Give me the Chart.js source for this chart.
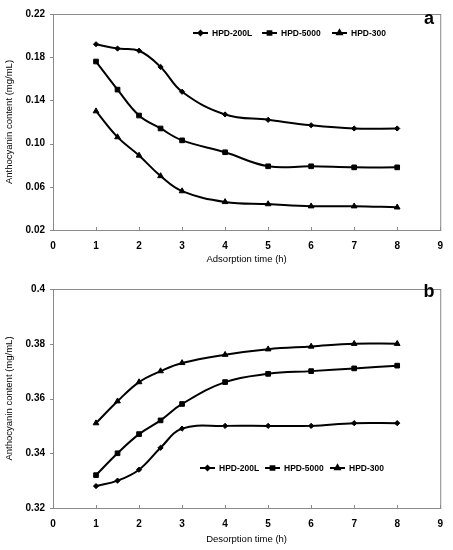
<!DOCTYPE html>
<html>
<head>
<meta charset="utf-8">
<script src="https://cdn.jsdelivr.net/npm/chart.js@4"></script>
<style>
  html, body { margin: 0; padding: 0; background: #fff; }
  canvas { display: block; }
</style>
</head>
<body>
<canvas id="chartA" width="453" height="275"></canvas>
<canvas id="chartB" width="453" height="275"></canvas>
<script>
// sampling times (h)
const times = [1, 1.5, 2, 2.5, 3, 4, 5, 6, 7, 8];
const seriesNames = ['HPD-200L', 'HPD-5000', 'HPD-300'];

// (a) adsorption
const adsHPD200L = [0.192, 0.188, 0.186, 0.171, 0.148, 0.127, 0.122, 0.117, 0.114, 0.114];
const adsHPD5000 = [0.176, 0.150, 0.126, 0.114, 0.103, 0.092, 0.079, 0.079, 0.078, 0.078];
const adsHPD300  = [0.130, 0.106, 0.089, 0.070, 0.056, 0.046, 0.044, 0.042, 0.042, 0.041];

// (b) desorption
const desHPD200L = [0.328, 0.330, 0.334, 0.342, 0.349, 0.350, 0.350, 0.350, 0.351, 0.351];
const desHPD5000 = [0.332, 0.340, 0.347, 0.352, 0.358, 0.366, 0.369, 0.370, 0.371, 0.372];
const desHPD300  = [0.351, 0.359, 0.366, 0.370, 0.373, 0.376, 0.378, 0.379, 0.380, 0.380];

const FONT = '"Liberation Sans", Arial, sans-serif';
const markers = [
    { style: 'rectRot', radius: 2.6 },
    { style: 'rect', radius: 3.3 },
    { style: 'triangle', radius: 3.3 }
];

function makeDatasets(lists) {
    return lists.map(function (vals, i) {
        return {
            label: seriesNames[i],
            data: times.map(function (t, k) { return { x: t, y: vals[k] }; }),
            borderColor: '#000',
            backgroundColor: '#000',
            borderWidth: 2,
            tension: 0.4,
            pointStyle: markers[i].style,
            pointRadius: markers[i].radius,
            pointBorderWidth: 1
        };
    });
}

// box round the plot, small inward ticks, legend and panel letter
const decorPlugin = {
    id: 'decor',
    afterDraw(chart, args, opts) {
        const ctx = chart.ctx;
        const a = chart.chartArea;
        ctx.save();
        ctx.strokeStyle = '#8a8a8a';
        ctx.lineWidth = 1;
        ctx.strokeRect(a.left + 0.5, a.top + 0.5, a.right - a.left, a.bottom - a.top);

        const xs = chart.scales.x, ys = chart.scales.y;
        ctx.beginPath();
        xs.ticks.forEach(function (t, i) {
            const px = Math.round(xs.getPixelForTick(i)) + 0.5;
            ctx.moveTo(px, a.bottom);
            ctx.lineTo(px, a.bottom - 3);
        });
        ys.ticks.forEach(function (t, i) {
            const py = Math.round(ys.getPixelForTick(i)) + 0.5;
            ctx.moveTo(a.left, py);
            ctx.lineTo(a.left - 3, py);
        });
        ctx.stroke();

        // legend
        ctx.font = 'bold 8.5px ' + FONT;
        ctx.textBaseline = 'middle';
        ctx.fillStyle = '#000';
        chart.data.datasets.forEach(function (ds, i) {
            const lx = opts.legendX[i], ly = opts.legendY;
            ctx.strokeStyle = '#000';
            ctx.lineWidth = 2;
            ctx.beginPath();
            ctx.moveTo(lx, ly);
            ctx.lineTo(lx + 15, ly);
            ctx.stroke();
            Chart.helpers.drawPoint(ctx, {
                pointStyle: ds.pointStyle,
                radius: ds.pointRadius * 0.8,
                borderWidth: 1,
                rotation: 0
            }, lx + 7.5, ly);
            ctx.fill();
            ctx.fillText(ds.label, lx + 19, ly + 0.5);
        });

        ctx.font = 'bold 18px ' + FONT;
        ctx.textAlign = 'center';
        ctx.fillText(opts.letter, opts.letterX, opts.letterY);
        ctx.restore();
    }
};

function makeChart(id, lists, cfg) {
    return new Chart(document.getElementById(id), {
        type: 'line',
        data: { datasets: makeDatasets(lists) },
        plugins: [decorPlugin],
        options: {
            responsive: false,
            animation: false,
            layout: { padding: { left: 0, right: 10, top: cfg.top, bottom: 0 } },
            plugins: {
                legend: { display: false },
                tooltip: { enabled: false },
                decor: {
                    legendX: cfg.legendX,
                    legendY: cfg.legendY,
                    letter: cfg.letter,
                    letterX: 429,
                    letterY: cfg.letterY
                }
            },
            scales: {
                x: {
                    type: 'linear',
                    min: 0,
                    max: 9,
                    afterFit: function (s) { s.height = cfg.xHeight; },
                    grid: { display: false, drawTicks: false },
                    border: { display: false },
                    ticks: {
                        stepSize: 1,
                        padding: cfg.xPad,
                        color: '#000',
                        font: { family: FONT, size: 10, weight: 'bold' }
                    },
                    title: {
                        display: true,
                        text: cfg.xTitle,
                        color: '#000',
                        padding: { top: 0, bottom: cfg.xTitlePad },
                        font: { family: FONT, size: 9.5 }
                    }
                },
                y: {
                    min: cfg.yMin,
                    max: cfg.yMax,
                    afterFit: function (s) { s.width = 53; },
                    grid: { display: false, drawTicks: false },
                    border: { display: false },
                    ticks: {
                        stepSize: cfg.yStep,
                        padding: 8,
                        color: '#000',
                        font: { family: FONT, size: 10, weight: 'bold' },
                        callback: cfg.yFormat
                    },
                    title: {
                        display: true,
                        text: 'Anthocyanin content (mg/mL)',
                        color: '#000',
                        padding: { top: 4, bottom: 0 },
                        font: { family: FONT, size: 9.5 }
                    }
                }
            }
        }
    });
}

makeChart('chartA', [adsHPD200L, adsHPD5000, adsHPD300], {
    top: 7, xHeight: 45, xPad: 10, xTitlePad: 10,
    xTitle: 'Adsorption time (h)',
    yMin: 0.02, yMax: 0.22, yStep: 0.04,
    yFormat: function (v) { return v.toFixed(2); },
    legendX: [193, 262, 332], legendY: 33,
    letter: 'a', letterY: 19
});

makeChart('chartB', [desHPD200L, desHPD5000, desHPD300], {
    top: 6, xHeight: 42, xPad: 10, xTitlePad: 5,
    xTitle: 'Desorption time (h)',
    yMin: 0.32, yMax: 0.4, yStep: 0.02,
    yFormat: function (v) { return String(+v.toFixed(2)); },
    legendX: [200, 265, 330], legendY: 193,
    letter: 'b', letterY: 17
});
</script>
</body>
</html>
